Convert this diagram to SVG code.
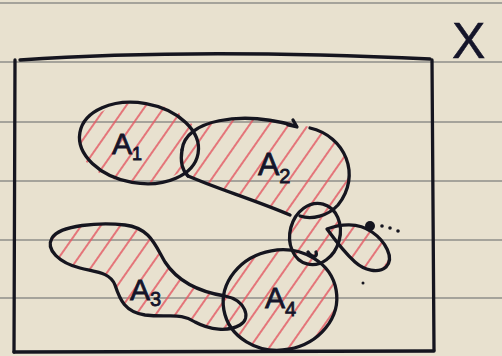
<svg xmlns="http://www.w3.org/2000/svg" width="502" height="356" viewBox="0 0 502 356">
<style>
.ink{fill:none;stroke:#15151f;stroke-width:3.3;stroke-linecap:round;stroke-linejoin:round}
.rule{stroke:#a5a39b;stroke-width:2}
.lbl{font-family:"Liberation Sans",Arial,sans-serif;fill:#15152a;stroke:#15152a;stroke-width:0.8}
</style>
<defs>
<pattern id="hatch" patternUnits="userSpaceOnUse" width="16" height="16" patternTransform="rotate(35)">
<line x1="4" y1="0" x2="4" y2="16" stroke="#e45a64" stroke-width="1.6"/>
</pattern>
<clipPath id="regions">
<ellipse cx="139" cy="143" rx="60" ry="40"/>
<path d="M182,150 C185,120 240,110 300,125 C345,132 362,175 338,205 C325,220 310,222 290,215 C255,200 215,188 188,176 C180,170 180,160 182,150 Z"/>
<ellipse cx="315" cy="234" rx="25" ry="31"/>
<path d="M327,229 C340,224 358,222 372,232 C385,241 395,258 386,267 C378,274 364,270 355,262 C345,253 335,240 327,229 Z"/>
<path d="M52,238 C60,225 100,222 125,225 C150,228 155,245 165,262 C178,282 200,292 225,296 C245,300 252,318 240,325 C228,332 210,330 195,322 C180,312 170,318 145,315 C125,312 120,300 115,285 C110,272 95,272 80,268 C60,263 45,250 52,238 Z"/>
<ellipse cx="280" cy="300" rx="57" ry="50"/>
</clipPath>
</defs>
<rect width="502" height="356" fill="#e8e1cf"/>
<g id="paper-lines">
<line class="rule" x1="0" y1="3" x2="502" y2="3"/>
<line class="rule" x1="0" y1="62" x2="502" y2="62"/>
<line class="rule" x1="0" y1="122" x2="502" y2="122"/>
<line class="rule" x1="0" y1="181" x2="502" y2="181"/>
<line class="rule" x1="0" y1="240" x2="502" y2="240"/>
<line class="rule" x1="0" y1="298" x2="502" y2="298"/>
</g>
<g id="hatching">
<rect x="40" y="100" width="360" height="255" fill="url(#hatch)" clip-path="url(#regions)"/>
</g>
<g id="X">
<path class="ink" d="M20,60 C150,51 300,53 430,59"/>
<path class="ink" d="M15,60 L14,352"/>
<path class="ink" d="M432,60 L434,350"/>
<path class="ink" d="M14,352 L434,351"/>
<text class="lbl" x="452" y="58" font-size="50" style="stroke-width:0.5">X</text>
</g>
<g id="A1">
<ellipse class="ink" cx="139" cy="143" rx="60" ry="40" transform="rotate(10 139 143)"/>
<text class="lbl" x="112" y="154" font-size="30">A<tspan font-size="18" dy="6">1</tspan></text>
</g>
<g id="A2">
<path class="ink" d="M182,150 C185,120 240,110 296,126"/>
<path class="ink" d="M288,125 L297,127 L293,120"/>
<path class="ink" d="M310,128 C345,136 362,175 338,205 C328,216 312,220 300,216"/>
<path class="ink" d="M188,176 C215,188 255,200 290,215"/>
<path class="ink" d="M182,150 C180,162 182,170 188,176"/>
<text class="lbl" x="258" y="175" font-size="32">A<tspan font-size="20" dy="8">2</tspan></text>
</g>
<g id="B">
<ellipse class="ink" cx="315" cy="234" rx="25" ry="31" transform="rotate(15 315 234)"/>
<path class="ink" d="M308,252 C312,258 318,258 316,252"/>
</g>
<g id="C">
<path class="ink" d="M327,229 C340,224 358,222 372,232 C385,241 395,258 386,267 C378,274 364,270 355,262 C345,253 335,240 327,229 Z"/>
<circle cx="370" cy="226" r="5" fill="#15151f"/>
<circle cx="382" cy="226" r="1.8" fill="#15151f"/>
<circle cx="390" cy="228" r="1.8" fill="#15151f"/>
<circle cx="398" cy="231" r="1.8" fill="#15151f"/>
<circle cx="363" cy="283" r="1.5" fill="#15151f"/>
</g>
<g id="A3">
<path class="ink" d="M52,238 C60,225 100,222 125,225 C150,228 155,245 165,262 C178,282 200,292 225,296 C245,300 252,318 240,325 C228,332 210,330 195,322 C180,312 170,318 145,315 C125,312 120,300 115,285 C110,272 95,272 80,268 C60,263 45,250 52,238 Z"/>
<text class="lbl" x="130" y="300" font-size="30">A<tspan font-size="20" dy="6">3</tspan></text>
</g>
<g id="A4">
<ellipse class="ink" cx="280" cy="300" rx="57" ry="50" transform="rotate(-10 280 300)"/>
<text class="lbl" x="265" y="308" font-size="30">A<tspan font-size="20" dy="8">4</tspan></text>
</g>
</svg>
